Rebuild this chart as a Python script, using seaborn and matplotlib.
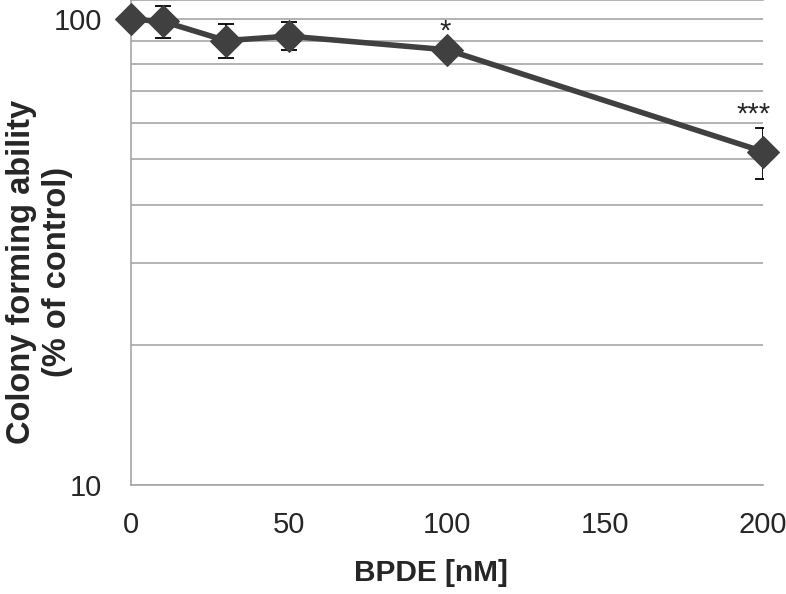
import numpy as np
import pandas as pd
import matplotlib
matplotlib.use("Agg")
import matplotlib.pyplot as plt
import seaborn as sns
from matplotlib.ticker import FixedLocator, NullFormatter

# --- data ---
dose_nm = [0, 10, 30, 50, 100, 200]
colony_pct = [100, 99, 90, 92, 86, 52]
err_up = [0, 8, 7.5, 6.5, 2, 6.5]
err_down = [0, 8, 7.5, 6, 2, 6.5]
stars = ["", "", "", "", "*", "***"]

df = pd.DataFrame({"dose": dose_nm, "colony": colony_pct})

sns.set_style("white")
plt.rcParams["font.family"] = ["Liberation Sans", "DejaVu Sans"]

fig = plt.figure(figsize=(7.86, 5.94), dpi=100)
ax = fig.add_axes([0.1667, 0.1835, 0.804, 0.8165])

ax.set_yscale("log")
ax.set_ylim(10, 110)
ax.set_xlim(0, 200)

# grid lines at 20..100
ax.yaxis.set_major_locator(FixedLocator([10, 100]))
ax.yaxis.set_minor_locator(FixedLocator([20, 30, 40, 50, 60, 70, 80, 90]))
ax.yaxis.set_minor_formatter(NullFormatter())
ax.set_yticklabels(["10", "100"])
ax.grid(True, which="both", axis="y", color="#a6a6a6", linewidth=1.2)
ax.set_axisbelow(True)

ax.errorbar(dose_nm, colony_pct, yerr=[err_down, err_up], fmt="none",
            ecolor="black", elinewidth=1.3, capsize=6, capthick=1.3, zorder=2)
sns.lineplot(data=df, x="dose", y="colony", ax=ax, color="#404040",
             linewidth=4, marker="D", markersize=16, markeredgecolor="#404040",
             zorder=3, clip_on=False)

# significance stars above the error bars
for x, y, up, s in zip(dose_nm, colony_pct, err_up, stars):
    if s:
        dx = -7 if len(s) > 1 else -1
        ax.annotate(s, (x, y + up), xytext=(dx, 4), textcoords="offset points",
                    ha="center", va="baseline", fontsize=21)

ax.set_xticks([0, 50, 100, 150, 200])
ax.tick_params(axis="x", which="major", direction="out", length=8, width=1.2,
               color="#a6a6a6", labelsize=21, pad=11)
ax.tick_params(axis="y", which="both", length=0, labelsize=21, pad=21)

for side in ["left", "bottom", "top"]:
    ax.spines[side].set_color("#a6a6a6")
    ax.spines[side].set_linewidth(1.2)
ax.spines["right"].set_visible(False)

ax.set_xlabel("BPDE [nM]", fontsize=21.5, fontweight="bold")
ax.xaxis.set_label_coords(0.475, -0.152)
ax.set_ylabel("Colony forming ability\n(% of control)", fontsize=23.5,
              fontweight="bold", linespacing=1.22)
ax.yaxis.set_label_coords(-0.145, 0.44)
ax.yaxis.label.set_verticalalignment("center")

fig.savefig("out.png", dpi=100)
